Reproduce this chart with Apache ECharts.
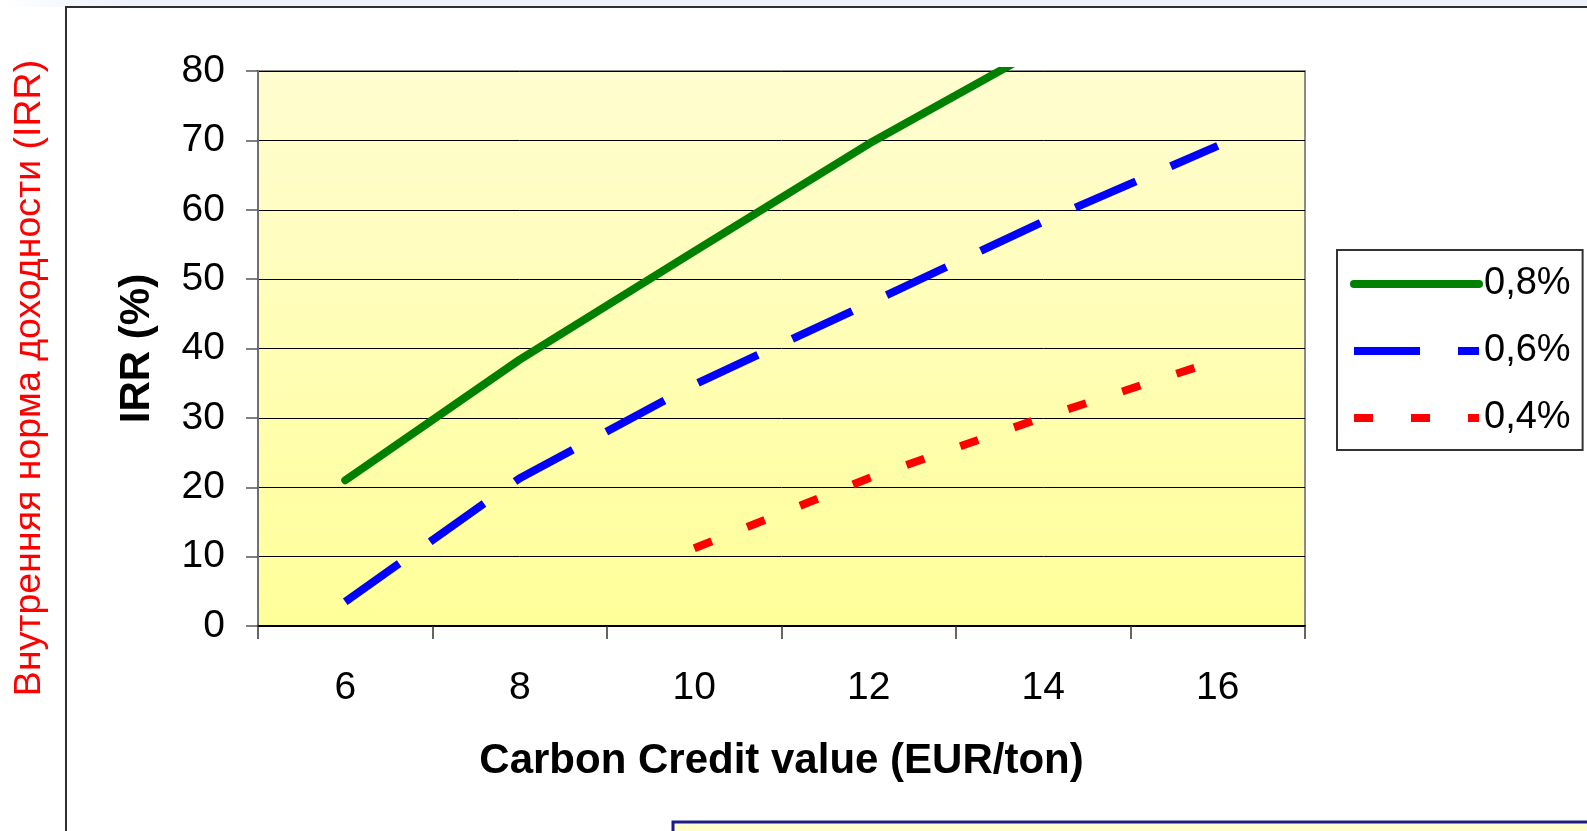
<!DOCTYPE html>
<html>
<head>
<meta charset="utf-8">
<script src="https://cdn.jsdelivr.net/npm/echarts@6/dist/echarts.min.js"></script>
<style>
  html, body { margin: 0; padding: 0; background: #ffffff; }
  #chart { width: 1587px; height: 831px; }
</style>
</head>
<body>
<div id="chart"></div>
<script>
// Carbon credit price (EUR/ton) on the category axis
const categories = ['6', '8', '10', '12', '14', '16'];
// IRR (%) for each reduction scenario
const irr08 = [21.0, 38.4, 54.0, 69.5, 83.5, null];
const irr06 = [3.5, 21.3, 34.8, 46.5, 58.3, 69.2];
const irr04 = [null, null, 11.2, 21.3, 30.1, 38.3];
const seriesNames = ['0,8%', '0,6%', '0,4%'];
const yTicks = { min: 0, max: 80, interval: 10 };

const FONT = 'Liberation Sans, Arial, sans-serif';
const NONE = 'rgba(0,0,0,0)';

const chart = echarts.init(document.getElementById('chart'), null, { renderer: 'canvas' });

chart.setOption({
  backgroundColor: '#ffffff',
  animation: false,
  grid: {
    left: 258, right: 282, top: 71, bottom: 205,
    show: true,
    borderColor: '#8a8a8a',
    borderWidth: 2,
    backgroundColor: {
      type: 'linear', x: 0, y: 0, x2: 0, y2: 1,
      colorStops: [
        { offset: 0, color: '#fffdd0' },
        { offset: 1, color: '#ffff99' }
      ]
    }
  },
  graphic: [
    {
      type: 'rect', z: -10, silent: true,
      shape: { x: 0, y: 0, width: 1587, height: 7 },
      style: {
        fill: {
          type: 'linear', x: 0, y: 0, x2: 1, y2: 0,
          colorStops: [
            { offset: 0, color: '#ffffff' },
            { offset: 0.08, color: '#eef2fb' },
            { offset: 1, color: '#eef2fb' }
          ]
        }
      }
    },
    {
      type: 'rect', z: -5, silent: true,
      shape: { x: 66, y: 7, width: 1600, height: 900 },
      style: { fill: 'none', stroke: '#2e2e2e', lineWidth: 2 }
    },
    {
      type: 'rect', silent: true,
      shape: { x: 673, y: 822, width: 1000, height: 60 },
      style: { fill: '#ffffcc', stroke: '#1c1c8a', lineWidth: 3 }
    },
    {
      type: 'text', silent: true,
      x: 30, y: 378, rotation: Math.PI / 2,
      style: {
        text: 'Внутренняя норма доходности (IRR)',
        fill: '#ff0000',
        font: '37.5px ' + FONT,
        align: 'center',
        verticalAlign: 'middle'
      }
    }
  ],
  legend: {
    orient: 'vertical',
    left: 1337, top: 250,
    data: seriesNames,
    itemWidth: 125,
    itemHeight: 12,
    itemGap: 27,
    padding: [14, 12, 12, 13],
    backgroundColor: '#ffffff',
    borderColor: '#333333',
    borderWidth: 2,
    itemStyle: { color: NONE, borderColor: NONE, borderWidth: 0 },
    lineStyle: { width: 'inherit' },
    textStyle: { fontFamily: FONT, fontSize: 38, color: '#000000', lineHeight: 40, padding: [0, 0, 0, 0] }
  },
  xAxis: {
    type: 'category',
    data: categories,
    boundaryGap: true,
    name: 'Carbon Credit value (EUR/ton)',
    nameLocation: 'middle',
    nameGap: 114,
    nameTextStyle: { fontFamily: FONT, fontSize: 42, fontWeight: 'bold', color: '#000000' },
    axisLine: { lineStyle: { color: '#000000', width: 2 } },
    axisTick: { show: true, length: 13, lineStyle: { color: '#333333', width: 1.5 } },
    axisLabel: { fontFamily: FONT, fontSize: 39, color: '#000000', margin: 43 },
    splitLine: { show: false }
  },
  yAxis: {
    type: 'value',
    min: yTicks.min, max: yTicks.max, interval: yTicks.interval,
    name: 'IRR (%)',
    nameLocation: 'middle',
    nameRotate: 90,
    nameGap: 100,
    nameTextStyle: { fontFamily: FONT, fontSize: 42, fontWeight: 'bold', color: '#000000' },
    axisLine: { show: true, lineStyle: { color: '#707070', width: 2 } },
    axisTick: { show: true, length: 12, lineStyle: { color: '#555555', width: 1.5 } },
    axisLabel: { fontFamily: FONT, fontSize: 39, color: '#000000', margin: 33 },
    splitLine: { show: true, lineStyle: { color: '#000000', width: 1 } }
  },
  series: [
    {
      name: seriesNames[0], type: 'line', data: irr08,
      symbol: 'none', connectNulls: false, clip: true,
      lineStyle: { color: '#008000', width: 8, cap: 'round', join: 'round' },
      itemStyle: { color: '#008000' }
    },
    {
      name: seriesNames[1], type: 'line', data: irr06,
      symbol: 'none', clip: true,
      lineStyle: { color: '#0000ff', width: 8, type: [66, 38], cap: 'butt' },
      itemStyle: { color: '#0000ff' }
    },
    {
      name: seriesNames[2], type: 'line', data: irr04,
      symbol: 'none', clip: true,
      lineStyle: { color: '#ff0000', width: 8, type: [19, 38], cap: 'butt' },
      itemStyle: { color: '#ff0000' }
    }
  ]
});
</script>
</body>
</html>
